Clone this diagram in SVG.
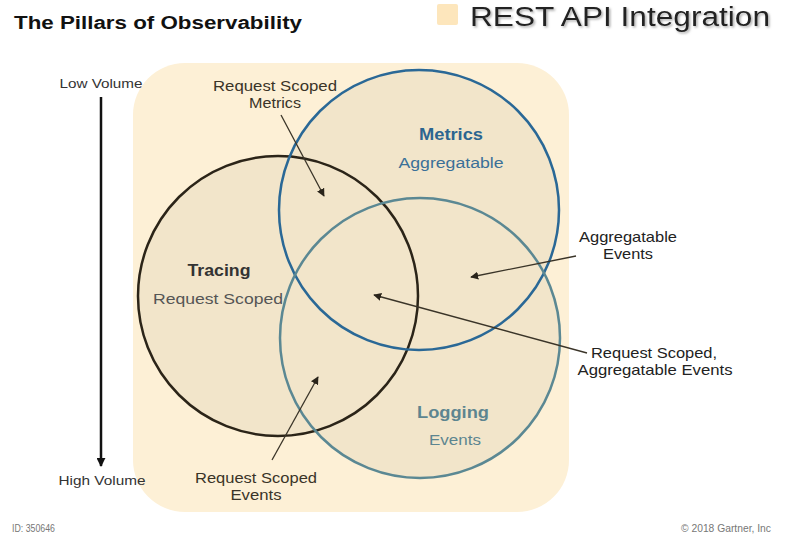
<svg xmlns="http://www.w3.org/2000/svg" width="788" height="548" viewBox="0 0 788 548">
<defs>
<style>
text{font-family:"Liberation Sans",Arial,sans-serif}
.lbl{font-size:14.5px;fill:#3a3428;text-anchor:middle}
.side{font-size:14.5px;fill:#222;text-anchor:middle}
.ax{font-size:13px;fill:#333;text-anchor:middle}
.foot{font-size:11px;fill:#777}
.ring{fill:none;stroke-width:2.5}
.disc{fill:#f2e5ca}
.conn{stroke:#3a3428;stroke-width:1.3;fill:none;marker-end:url(#ah)}
</style>
<marker id="ah" viewBox="0 0 10 10" refX="9" refY="5" markerWidth="8" markerHeight="8" orient="auto" markerUnits="userSpaceOnUse">
<path d="M0,0 L10,5 L0,10 z" fill="#2a241a"/>
</marker>
<marker id="ahb" viewBox="0 0 10 10" refX="9" refY="5" markerWidth="9" markerHeight="9" orient="auto" markerUnits="userSpaceOnUse">
<path d="M0,0 L10,5 L0,10 z" fill="#111"/>
</marker>
<filter id="sh" x="-5%" y="-20%" width="115%" height="150%">
<feDropShadow dx="1.5" dy="1.5" stdDeviation="1" flood-color="#888" flood-opacity="0.7"/>
</filter>
</defs>
<rect width="788" height="548" fill="#fff"/>
<g id="title">
<text x="14" y="29" font-size="18" font-weight="bold" fill="#111" textLength="288" lengthAdjust="spacingAndGlyphs">The Pillars of Observability</text>
</g>
<g id="legend">
<rect x="437" y="4" width="21" height="21" rx="2" fill="#fde6bc"/>
<text x="470" y="26" font-size="27" fill="#222" filter="url(#sh)" textLength="300" lengthAdjust="spacingAndGlyphs">REST API Integration</text>
</g>
<g id="background">
<rect x="133" y="63" width="436" height="449" rx="52" fill="#fdf0d6"/>
<circle class="disc" cx="278" cy="296" r="140"/>
<circle class="disc" cx="419" cy="210" r="140"/>
<circle class="disc" cx="420" cy="338" r="140"/>
</g>
<g id="axis">
<text class="ax" x="101" y="88" textLength="83" lengthAdjust="spacingAndGlyphs">Low Volume</text>
<line x1="101" y1="97" x2="101" y2="466" stroke="#111" stroke-width="2.5" marker-end="url(#ahb)"/>
<text class="ax" x="102" y="485" textLength="87" lengthAdjust="spacingAndGlyphs">High Volume</text>
</g>
<g id="tracing">
<circle class="ring" cx="278" cy="296" r="140" stroke="#2b2418"/>
<text x="219" y="276" font-size="16" font-weight="bold" fill="#333" text-anchor="middle" textLength="63" lengthAdjust="spacingAndGlyphs">Tracing</text>
<text x="218" y="304" font-size="15.5" fill="#555" text-anchor="middle" textLength="130" lengthAdjust="spacingAndGlyphs">Request Scoped</text>
</g>
<g id="metrics">
<circle class="ring" cx="419" cy="210" r="140" stroke="#2a6896"/>
<text x="451" y="140" font-size="16" font-weight="bold" fill="#2c6590" text-anchor="middle" textLength="64" lengthAdjust="spacingAndGlyphs">Metrics</text>
<text x="451" y="168" font-size="15.5" fill="#3a7098" text-anchor="middle" textLength="105" lengthAdjust="spacingAndGlyphs">Aggregatable</text>
</g>
<g id="logging">
<circle class="ring" cx="420" cy="338" r="140" stroke="#5b8893"/>
<text x="453" y="418" font-size="16" font-weight="bold" fill="#5d8590" text-anchor="middle" textLength="72" lengthAdjust="spacingAndGlyphs">Logging</text>
<text x="455" y="445" font-size="15.5" fill="#5d8590" text-anchor="middle" textLength="52" lengthAdjust="spacingAndGlyphs">Events</text>
</g>
<g id="labels">
<text class="lbl" x="275" y="91" textLength="124" lengthAdjust="spacingAndGlyphs">Request Scoped</text>
<text class="lbl" x="275" y="108" textLength="52" lengthAdjust="spacingAndGlyphs">Metrics</text>
<text class="side" x="628" y="242" textLength="98" lengthAdjust="spacingAndGlyphs">Aggregatable</text>
<text class="side" x="628" y="259" textLength="50" lengthAdjust="spacingAndGlyphs">Events</text>
<text class="side" x="654" y="358" textLength="126" lengthAdjust="spacingAndGlyphs">Request Scoped,</text>
<text class="side" x="655" y="375" textLength="155" lengthAdjust="spacingAndGlyphs">Aggregatable Events</text>
<text class="lbl" x="256" y="483" textLength="122" lengthAdjust="spacingAndGlyphs">Request Scoped</text>
<text class="lbl" x="256" y="500" textLength="51" lengthAdjust="spacingAndGlyphs">Events</text>
</g>
<g id="connectors">
<line class="conn" x1="281" y1="115" x2="324" y2="196"/>
<line class="conn" x1="576" y1="256" x2="471" y2="277"/>
<line class="conn" x1="587" y1="353" x2="374" y2="295"/>
<line class="conn" x1="272" y1="460" x2="318" y2="377"/>
</g>
<g id="footer">
<text class="foot" x="12" y="532" textLength="43" lengthAdjust="spacingAndGlyphs">ID: 350646</text>
<text class="foot" x="771" y="532" text-anchor="end" textLength="90" lengthAdjust="spacingAndGlyphs">© 2018 Gartner, Inc</text>
</g>
</svg>
